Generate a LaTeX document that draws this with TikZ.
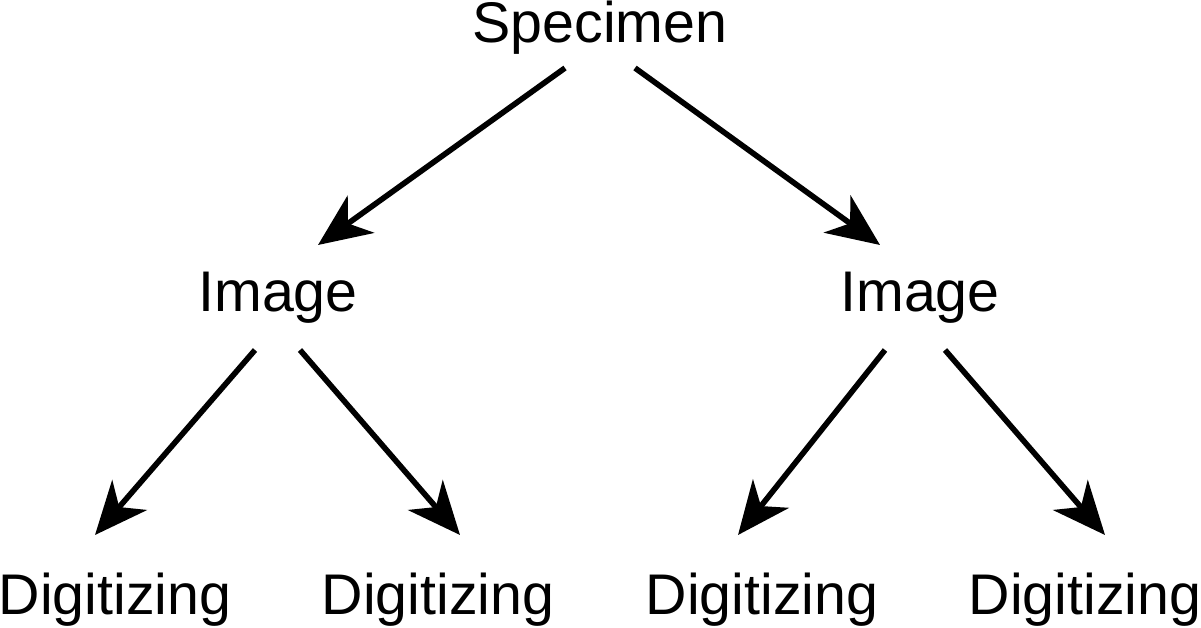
\documentclass[tikz,border=0pt]{standalone}
\usepackage{fontspec}
\setmainfont{Liberation Sans}
\usetikzlibrary{arrows.meta}
\begin{document}
\begin{tikzpicture}[x=0.01cm,y=-0.01cm,
  lbl/.style={font=\fontsize{16.3}{18}\selectfont,inner sep=0pt},
  arr/.style={line width=1.6pt,-{Stealth[length=15pt,width=13pt,inset=4.5pt]}}]
\useasboundingbox (0,0) rectangle (1201,628);
\node[lbl] (spec) at (600,28) {Specimen};
\node[lbl] (imL) at (278,298) {Image};
\node[lbl] (imR) at (920,298) {Image};
\node[lbl] (d1) at (115,600) {Digitizing};
\node[lbl] (d2) at (438,600) {Digitizing};
\node[lbl] (d3) at (762,600) {Digitizing};
\node[lbl] (d4) at (1085,600) {Digitizing};
\coordinate (s1) at (565,68); \coordinate (e1) at (318,245);
\coordinate (s2) at (635,68); \coordinate (e2) at (880,245);
\coordinate (s3) at (255,350); \coordinate (e3) at (95,535);
\coordinate (s4) at (300,350); \coordinate (e4) at (460,535);
\coordinate (s5) at (885,350); \coordinate (e5) at (738,535);
\coordinate (s6) at (945,350); \coordinate (e6) at (1105,535);
\foreach \i in {1,...,6}{\draw[arr] (s\i) -- (e\i);}
\end{tikzpicture}
\end{document}
